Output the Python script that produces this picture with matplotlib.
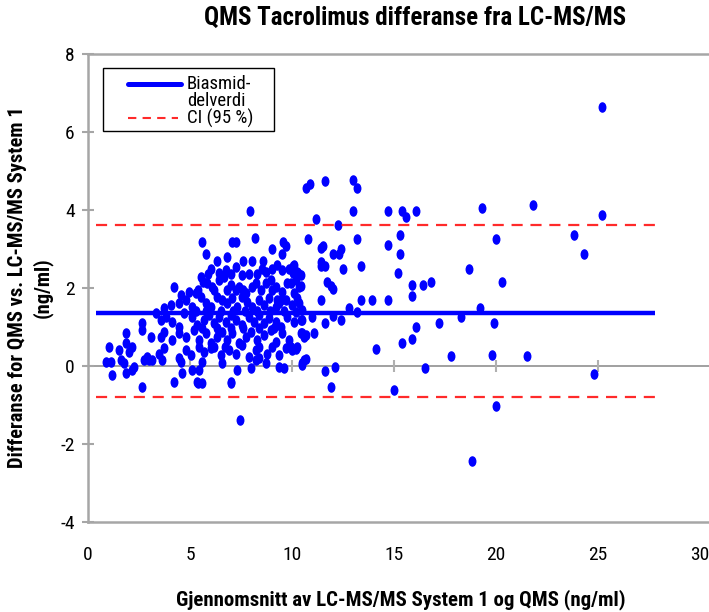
import matplotlib
matplotlib.use("Agg")
import matplotlib.pyplot as plt
from matplotlib import font_manager as fm
from matplotlib.path import Path
from matplotlib.transforms import Affine2D
from matplotlib.patches import Rectangle

#%% finn en smal skrift hvis den finnes
fonter = {(f.name, f.stretch) for f in fm.fontManager.ttflist}
smal = None
for navn in ['Liberation Sans Narrow', 'Roboto Condensed', 'Open Sans Condensed',
             'Noto Sans Condensed', 'DejaVu Sans Condensed']:
    if any(n == navn for n, _ in fonter):
        smal = (navn, 'normal')
        break
if smal is None:
    for navn in ['DejaVu Sans', 'Noto Sans', 'Roboto', 'Open Sans']:
        if (navn, 'condensed') in fonter or (navn, 'semi-condensed') in fonter:
            st = 'condensed' if (navn, 'condensed') in fonter else 'semi-condensed'
            smal = (navn, st)
            break
if smal is None:
    smal = ('Liberation Sans', 'normal')
    skala = 0.86
else:
    skala = 1.0

plt.rcParams['font.family'] = [smal[0], 'DejaVu Sans']
plt.rcParams['font.stretch'] = smal[1]

#%% data
gjennomsnitt = [
    5.57, 7.04, 7.24, 8.19, 9.56, 9.69, 9.04, 5.80, 9.53, 6.83, 8.02, 7.94,
    5.52, 6.01, 6.42, 6.75, 7.24, 7.57, 8.51, 8.71, 9.04, 9.28, 9.53, 9.85, 10.10, 10.26, 10.42,
    4.22, 4.54, 4.95, 5.28, 5.64, 5.85, 6.09, 6.42, 6.67, 6.99, 7.24, 7.40, 7.73, 8.06, 8.22,
    8.71, 8.95, 9.20, 9.53, 9.77, 10.18, 10.34, 9.28, 9.44,
    3.32, 3.73, 4.05, 4.46, 4.79, 5.11, 5.52, 5.77, 6.01, 6.34, 6.58, 6.83, 7.08, 7.32, 7.57,
    7.81, 8.06, 8.38, 8.63, 8.87, 9.20, 9.36, 9.69, 10.02, 10.26, 10.51,
    2.66, 3.56, 3.81, 4.13, 4.46, 4.71, 5.11, 5.36, 5.69, 5.93, 6.18, 6.42, 6.75, 6.99, 7.24,
    7.57, 7.89, 8.14, 8.38, 8.63, 8.87, 9.20, 9.44, 9.77, 10.10, 10.42,
    1.85, 2.66, 3.07, 3.56, 3.73, 4.13, 4.46, 4.79, 5.20, 5.44, 5.77, 6.01, 6.34, 6.58, 6.83,
    7.08, 7.40, 7.73, 7.97, 8.30, 8.63, 8.95, 9.20, 9.53, 9.85, 10.42,
    1.03, 1.52, 1.85, 2.01, 2.17, 2.91, 2.99, 3.48, 3.73, 4.46, 4.79, 5.03, 5.44, 5.69, 6.01,
    6.50, 6.91, 7.24, 7.57, 7.89, 8.22, 8.79, 9.04, 9.36, 9.69, 10.02, 10.26,
    0.87, 1.11, 1.60, 1.76, 2.17, 2.25, 2.75, 3.15, 3.64, 4.54, 5.11, 5.44, 5.60, 6.58, 7.32,
    7.97, 8.22, 8.38, 8.71, 9.36, 9.61, 10.59,
    1.19, 1.85, 4.22, 4.62, 5.36, 5.60, 6.99, 2.66, 5.38, 7.00, 7.45,
    10.07, 9.93, 10.42, 10.10, 10.34, 10.18, 10.67, 9.93, 10.51,
    # tett kjerne mellom radene
    5.90, 7.00, 7.90, 8.30, 5.40, 6.20, 6.80, 7.60, 8.50, 9.00,
    5.30, 5.80, 6.50, 7.10, 7.70, 8.30, 8.90, 9.60,
    5.60, 6.30, 7.00, 7.60, 8.40, 9.10, 6.20, 6.70, 8.40, 6.30, 7.60, 8.60,
    10.7, 10.9, 11.6, 13.0, 13.2, 13.0, 11.2, 12.25, 14.7, 15.4, 15.6, 16.1, 19.3,
    10.8, 11.4, 11.5, 13.2, 14.7, 15.3, 20.0, 12.0, 12.4, 12.3, 15.3,
    10.05, 11.4, 11.4, 11.6, 12.5, 13.4, 15.2, 18.7, 10.3, 11.7, 11.9, 12.0,
    15.9, 16.4, 16.8, 20.3, 11.4, 13.4, 13.9, 14.7, 15.9, 12.8, 13.2, 19.2, 18.3,
    10.5, 11.0, 11.6, 12.0, 12.4, 17.2, 19.9, 16.1, 10.5, 10.6, 11.1, 15.9, 15.4,
    14.1, 17.8, 19.8, 10.2, 9.95, 10.5, 10.7, 11.6, 12.1, 16.5, 11.9, 15.0,
    25.2, 21.8, 25.2, 23.8, 24.3, 21.5, 24.8, 20.0, 18.8,
]
differanse = [
    3.19, 3.19, 3.19, 3.27, 3.19, 3.08, 2.99, 2.86, 2.86, 2.79, 2.68, 3.97,
    2.29, 2.50, 2.38, 2.46, 2.55, 2.33, 2.50, 2.42, 2.50, 2.59, 2.46, 2.50, 2.59, 2.42, 2.33,
    2.03, 1.82, 1.91, 1.86, 2.16, 2.12, 2.03, 2.21, 2.29, 2.08, 1.95, 2.03, 1.86, 2.03, 2.12,
    2.12, 2.21, 2.03, 1.91, 2.12, 2.21, 2.03, 1.69, 1.69,
    1.35, 1.48, 1.56, 1.61, 1.69, 1.52, 1.78, 1.61, 1.52, 1.78, 1.69, 1.61, 1.74, 1.52, 1.78,
    1.65, 1.52, 1.69, 1.56, 1.74, 1.52, 1.61, 1.69, 1.56, 1.74, 1.44,
    1.09, 1.18, 1.26, 1.14, 1.01, 1.35, 1.26, 1.05, 1.18, 1.31, 1.09, 1.26, 1.14, 1.31, 1.18,
    1.05, 1.26, 1.14, 1.31, 1.09, 1.22, 1.14, 1.01, 1.26, 1.14, 1.18,
    0.84, 0.92, 0.75, 0.75, 0.88, 0.67, 0.84, 0.75, 0.92, 0.67, 0.84, 0.58, 0.75, 0.88, 0.67,
    0.84, 0.58, 0.75, 0.88, 0.67, 0.79, 0.92, 0.62, 0.84, 0.67, 0.84,
    0.50, 0.41, 0.58, 0.37, 0.50, 0.24, 0.15, 0.32, 0.45, 0.20, 0.41, 0.28, 0.50, 0.37, 0.45,
    0.28, 0.41, 0.32, 0.54, 0.24, 0.41, 0.32, 0.50, 0.28, 0.45, 0.41, 0.50,
    0.09, 0.09, 0.15, 0.07, -0.10, -0.02, 0.15, 0.15, 0.15, 0.11, -0.10, -0.10, 0.11, 0.07, -0.10,
    -0.06, 0.15, 0.20, 0.07, -0.02, -0.06, 0.15,
    -0.23, -0.19, -0.40, -0.19, -0.40, -0.44, -0.40, -0.53, -0.44, -0.44, -1.38,
    2.39, 2.12, 2.05, 1.86, 1.61, 1.39, 0.79, 0.45, 0.03,
    # tett kjerne mellom radene
    2.35, 2.35, 2.35, 2.35, 1.95, 1.95, 1.95, 1.95, 1.95, 1.95,
    1.40, 1.40, 1.40, 1.40, 1.40, 1.40, 1.40, 1.40,
    0.97, 0.97, 0.97, 0.97, 0.97, 0.97, 0.50, 0.50, 0.50, 2.70, 2.70, 2.70,
    4.56, 4.67, 4.74, 4.77, 4.56, 3.97, 3.77, 3.61, 3.97, 3.97, 3.82, 3.97, 4.05,
    3.26, 3.02, 3.08, 3.26, 3.10, 3.36, 3.26, 2.87, 3.00, 2.87, 2.87,
    2.56, 2.67, 2.56, 2.56, 2.49, 2.56, 2.38, 2.49, 2.38, 2.15, 2.05, 1.97,
    2.08, 2.08, 2.15, 2.15, 1.69, 1.69, 1.69, 1.69, 1.79, 1.49, 1.38, 1.49, 1.26,
    1.18, 1.26, 1.10, 1.28, 1.18, 1.10, 1.10, 1.00, 0.85, 0.74, 0.85, 0.69, 0.59,
    0.44, 0.26, 0.28, 0.44, 0.49, 0.08, 0.18, -0.13, -0.03, -0.05, -0.54, -0.62,
    6.64, 4.13, 3.87, 3.36, 2.87, 0.26, -0.21, -1.03, -2.44,
]

bias = 1.37
ci_ovre = 3.61
ci_nedre = -0.80
linje_x = [0.4, 27.8]

x_ticks = [0, 5, 10, 15, 20, 25, 30]
y_ticks = [-4, -2, 0, 2, 4, 6, 8]

#%% figur
fig = plt.figure(figsize=(7.09, 6.12), dpi=100)
ax = fig.add_axes([88 / 709, 90 / 612, 621 / 709, 468 / 612])

gra = '#a6a6a6'
blaa = '#0000ff'
rod = '#ff2a2a'
ax.set_xlim(0, 621 / 20.4)
ax.set_ylim(-4, 8)

# nullinje med tick-merker (som i Excel)
ax.axhline(0, color='#999999', lw=1.3, zorder=1)
ax.plot(x_ticks[1:-1], [0] * 5, ls='none', marker='|', ms=9, mew=1.5,
        color='#b0b0b0', zorder=1)

ellipse = Path.unit_circle().transformed(Affine2D().scale(0.75, 1.0))
ax.plot(gjennomsnitt, differanse, ls='none', marker=ellipse, ms=7.6,
        color=blaa, mec='none', zorder=3)

ax.plot(linje_x, [bias, bias], color=blaa, lw=3.2, zorder=4,
        solid_capstyle='butt')
ax.plot(linje_x, [ci_ovre, ci_ovre], color=rod, lw=1.6, dashes=(5, 3.5), zorder=4)
ax.plot(linje_x, [ci_nedre, ci_nedre], color=rod, lw=1.6, dashes=(5, 3.5), zorder=4)

for s in ['left', 'top', 'bottom']:
    ax.spines[s].set_color(gra)
    ax.spines[s].set_linewidth(1.8)
ax.spines['right'].set_visible(False)

ax.set_xticks(x_ticks)
ax.set_yticks(y_ticks)
ax.set_yticklabels([str(v) for v in y_ticks])
ax.tick_params(axis='x', length=0, pad=17, labelsize=14 * skala)
ax.tick_params(axis='y', direction='inout', length=9, width=1.5, color=gra,
               pad=5, labelsize=14 * skala)

# legende, tegnet for hand i aksekoordinater
tr = ax.transAxes
ax.add_patch(Rectangle((0.0242, 0.836), 0.2747, 0.134, transform=tr,
                       facecolor='white', edgecolor='black', lw=1.0, zorder=5))
ax.plot([0.064, 0.150], [0.936, 0.936], transform=tr, color=blaa, lw=3.6,
        solid_capstyle='round', zorder=6)
ax.plot([0.064, 0.145], [0.864, 0.864], transform=tr, color=rod, lw=1.5,
        dashes=(4, 3), zorder=6)
ax.text(0.159, 0.936, 'Biasmid-', transform=tr, va='center', ha='left',
        fontsize=13.5 * skala, zorder=6)
ax.text(0.159, 0.900, 'delverdi', transform=tr, va='center', ha='left',
        fontsize=13.5 * skala, zorder=6)
ax.text(0.159, 0.862, 'CI (95 %)', transform=tr, va='center', ha='left',
        fontsize=13.5 * skala, zorder=6)

fig.text(0.585, 0.97, 'QMS Tacrolimus differanse fra LC-MS/MS', ha='center',
         va='center', fontsize=18 * skala, fontweight='bold')
fig.text(0.565, 0.02, 'Gjennomsnitt av LC-MS/MS System 1 og QMS (ng/ml)',
         ha='center', va='center', fontsize=15 * skala, fontweight='bold')
fig.text(0.025, 0.53, 'Differanse for QMS vs. LC-MS/MS System 1', rotation=90,
         ha='center', va='center', fontsize=14.8 * skala, fontweight='bold')
fig.text(0.06, 0.53, '(ng/ml)', rotation=90, ha='center', va='center',
         fontsize=14.8 * skala, fontweight='bold')

fig.savefig('out.png', dpi=100)
